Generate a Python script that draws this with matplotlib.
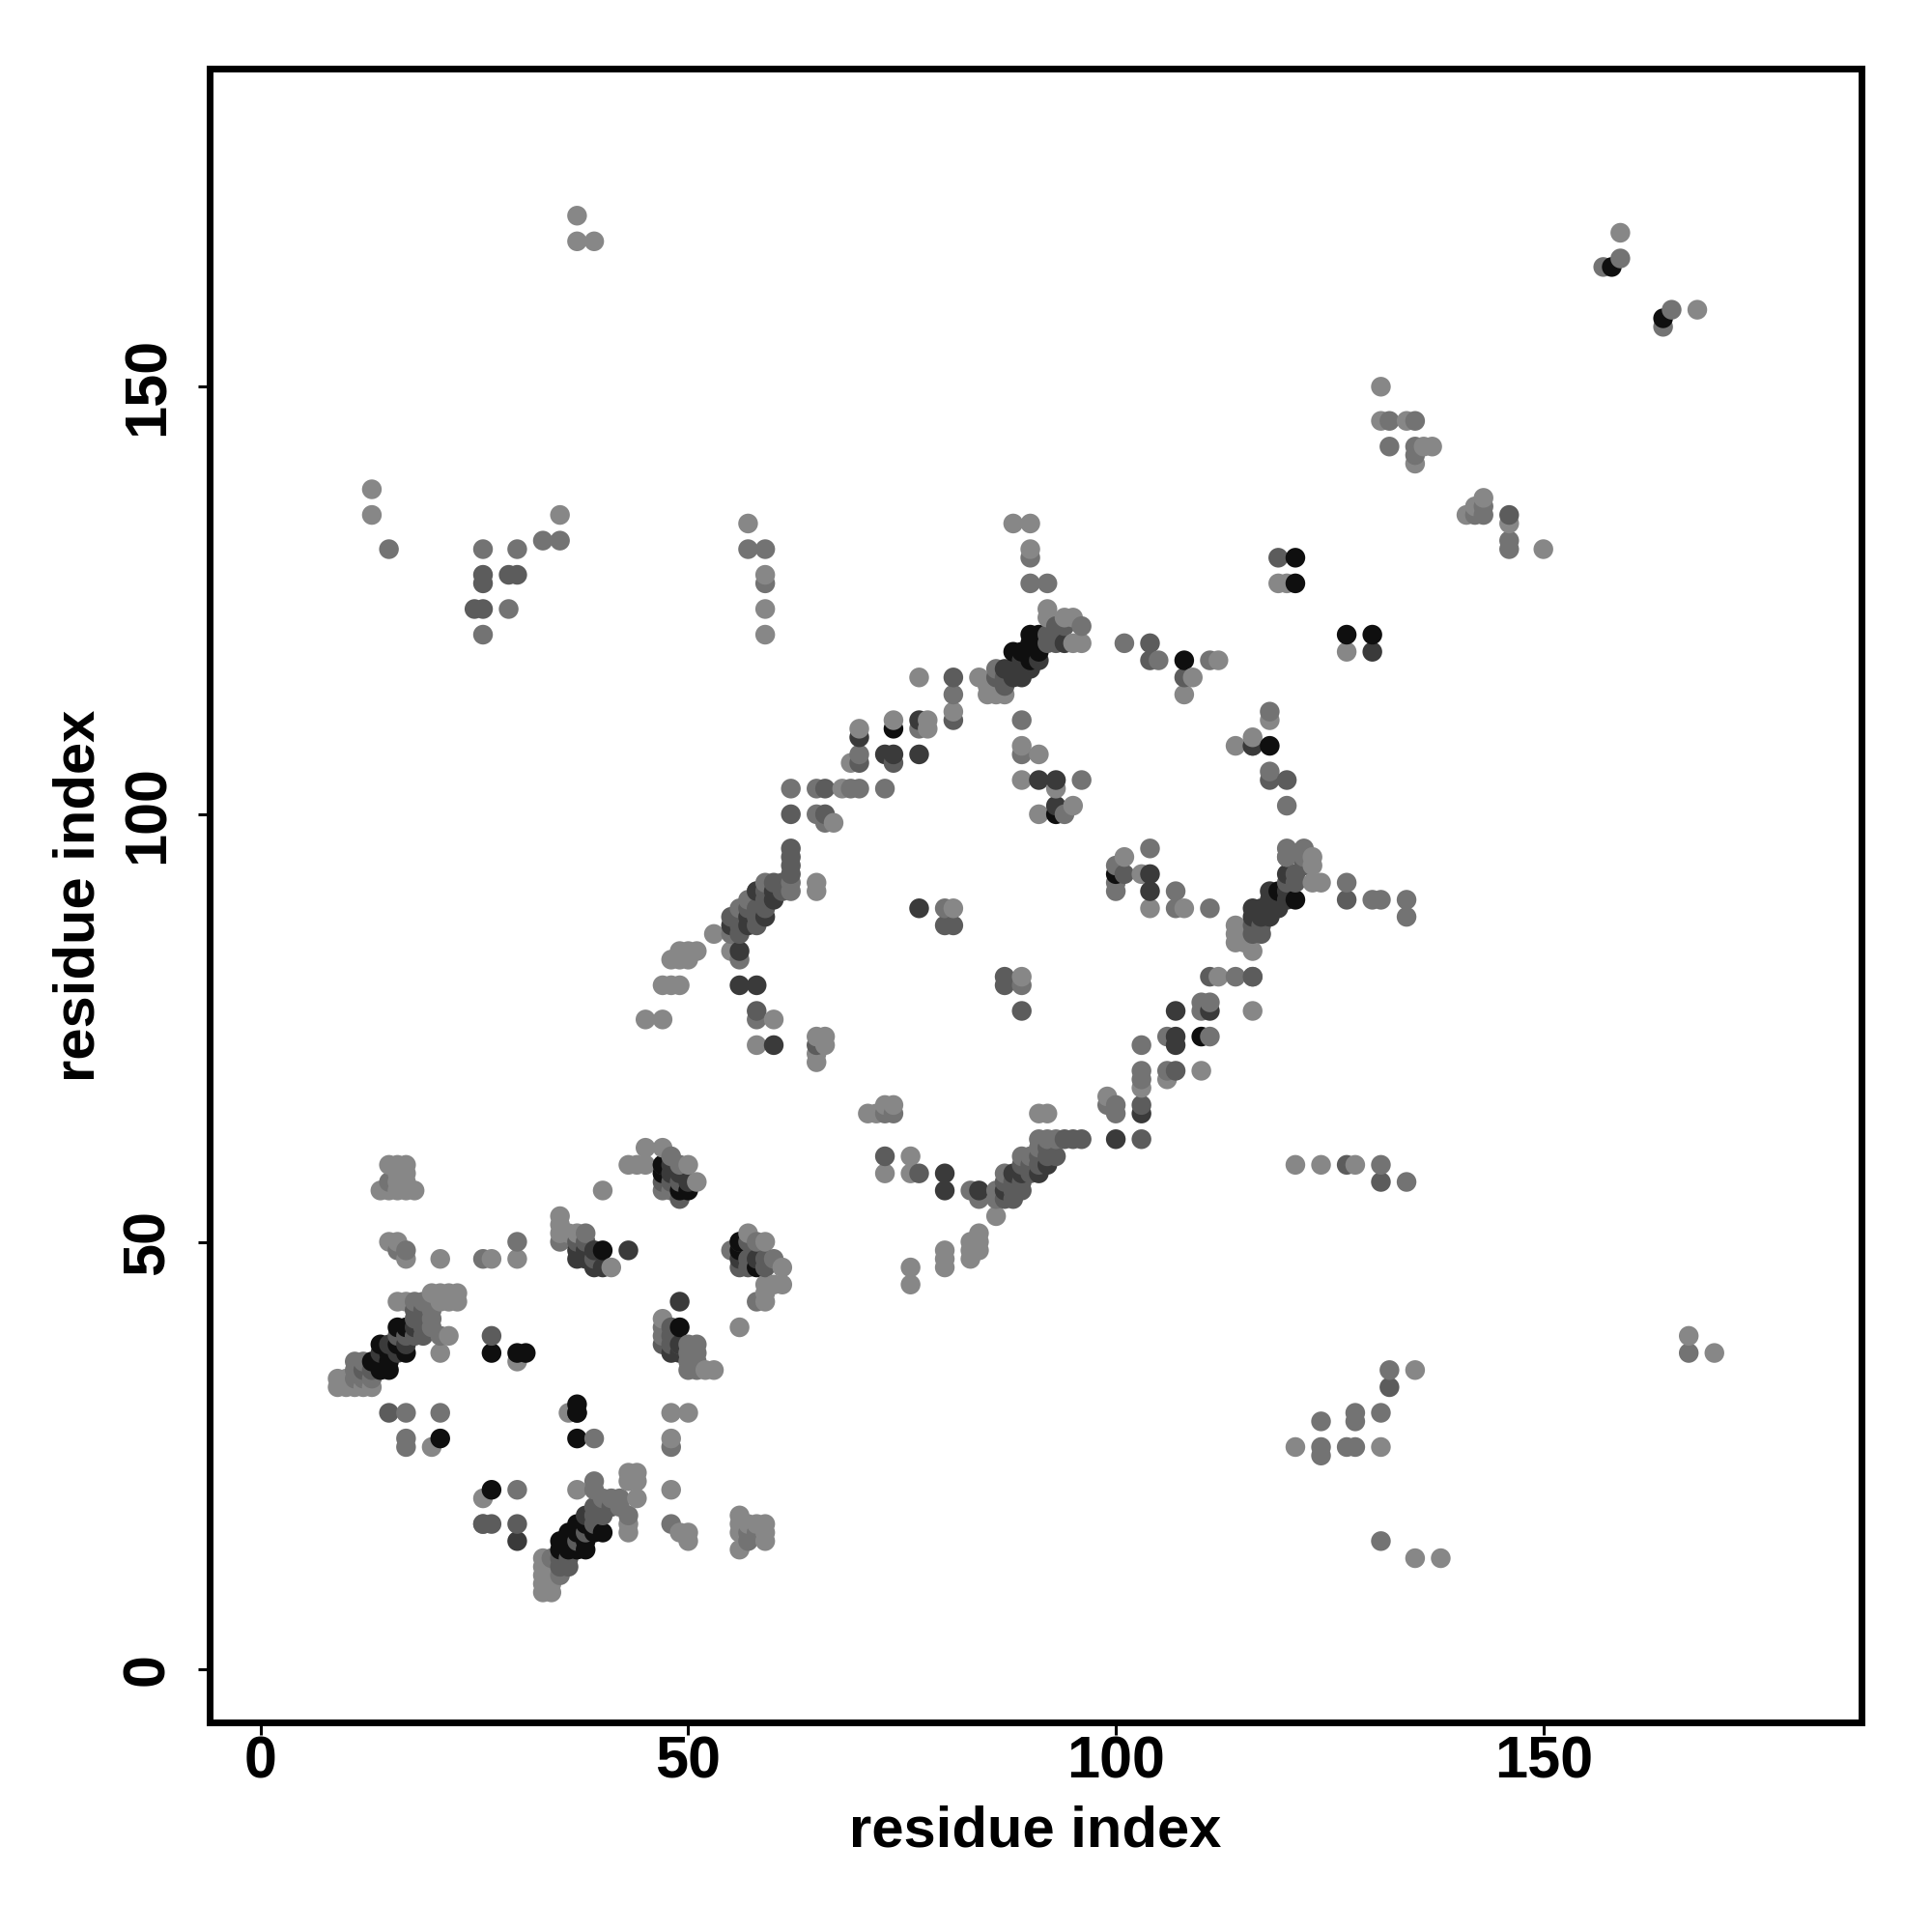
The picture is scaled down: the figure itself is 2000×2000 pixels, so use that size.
import matplotlib
matplotlib.use("Agg")
import matplotlib.pyplot as plt
import numpy as np

plt.rcParams['font.family'] = ['Liberation Sans', 'DejaVu Sans']

# contacts (residue i, residue j) grouped by how dark they are in the map
contacts_light = [
    (15,59),(16,59),(17,59),(16,58),(17,58),(16,57),(17,57),(14,56),(15,56),(16,56),(17,56),(18,56),
    (15,50),(16,50),(17,48),(21,48),(27,48),(30,48),(35,53),(35,52),(35,51),(36,51),(37,51),(41,47),
    (40,56),(45,61),(43,59),(44,59),(45,59),(47,61),(50,59),(51,57),(57,51),(59,50),(61,47),(61,45),
    (59,45),(59,44),(59,43),(60,45),(56,40),(16,43),(17,43),(20,44),(21,44),(22,44),(23,44),(22,43),(23,43),
    (21,43),(22,39),(21,37),(9,34),(10,34),(9,33),(10,33),(11,33),(12,33),(13,33),(30,36),(20,26),(36,30),
    (48,30),(50,30),(48,27),(26,20),(37,21),(43,23),(44,23),(43,22),(44,22),(44,20),(43,16),(43,17),
    (48,21),(49,16),(50,16),(50,15),(56,18),(56,17),(56,16),(56,14),(57,17),(58,17),(59,17),(59,16),(59,15),
    (33,13),(33,12),(34,12),(33,11),(34,11),(33,10),(34,10),(33,9),(34,9),(47,41),(53,35),(52,35),
    (65,92),(65,91),(81,89),(53,86),(51,84),(50,84),(49,84),(48,83),(49,83),(50,83),(55,84),(47,80),(48,80),(49,80),
    (45,76),(47,76),(60,76),(58,73),(65,74),(66,74),(66,73),(65,72),(65,71),(89,81),(71,65),(72,65),(73,66),(74,66),
    (91,65),(92,65),(76,60),(73,58),(76,58),(86,53),(84,51),(83,50),(84,50),(83,49),(84,49),(83,48),(80,49),(80,48),(80,47),
    (76,47),(76,45),(99,67),(103,68),(106,69),(110,70),(116,77),(112,81),(121,59),(124,59),(128,59),
    (90,131),(119,127),(120,127),(92,124),(92,123),(94,123),(95,123),(95,120),(96,120),(84,116),(85,115),(86,115),(85,114),(86,114),(87,114),
    (77,116),(81,112),(70,110),(74,111),(78,111),(78,110),(69,106),(68,103),(67,99),(89,108),(91,107),(89,104),(93,103),(95,101),(91,100),
    (101,95),(103,93),(104,89),(108,89),(109,116),(108,114),(112,118),(116,109),(114,108),(118,111),(120,95),(123,95),(123,94),(123,92),(124,92),
    (114,87),(114,86),(114,85),(115,85),(116,84),(37,170),(37,167),(39,167),(159,168),(168,159),(131,150),(131,146),(134,146),(136,143),(137,143),(135,141),
    (141,135),(143,137),(142,136),(146,134),(150,131),(13,138),(13,135),(35,135),(57,134),(59,128),(59,124),(59,121),(88,134),(90,134),(127,119),
    (170,37),(167,39),(135,35),(121,26),(138,13),(135,13),(131,26),
]
contacts_mid = [
    (15,57),(16,49),(17,49),(35,50),(38,51),(48,60),(49,59),(47,56),(48,56),(58,50),(60,48),(58,43),(18,43),(19,43),(20,42),
    (20,41),(20,40),(21,39),(11,36),(12,36),(11,35),(11,34),(12,34),(13,34),(17,30),(21,30),(17,27),(17,26),(39,27),(48,26),
    (39,22),(39,21),(30,21),(42,20),(40,20),(41,20),(42,19),(43,18),(48,17),(57,16),(57,15),(58,16),(26,17),(35,11),(34,13),
    (47,40),(47,39),(50,38),(51,38),(50,37),(51,37),(50,36),(51,36),(50,35),(51,35),(55,49),(26,48),(30,50),
    (62,92),(62,91),(59,92),(58,91),(57,90),(56,89),(55,86),(56,83),(58,76),(80,89),(73,65),(74,65),(89,80),(83,56),(84,55),(86,56),(86,55),(87,58),(91,62),
    (89,60),(90,60),(91,61),(92,62),(93,62),(99,66),(100,66),(100,65),(103,73),(106,74),(111,74),(106,70),(111,78),(110,77),(110,78),(131,59),(134,57),(103,70),(103,69),
    (90,130),(90,127),(92,127),(96,122),(86,117),(81,114),(70,107),(77,110),(73,103),(69,103),(70,103),(62,103),(65,103),(66,99),(65,100),(89,111),(89,107),(96,104),(94,100),
    (101,120),(105,118),(111,118),(120,101),(118,112),(118,105),(120,96),(122,96),(122,95),(120,95),(100,94),(100,92),(100,91),(104,96),(107,91),(107,89),(111,89),
    (157,164),(159,165),(164,157),(165,159),(132,146),(135,146),(132,143),(135,143),(135,142),(142,135),(143,135),(143,136),(146,132),(146,131),
    (15,131),(26,131),(26,121),(30,131),(33,132),(35,132),(29,124),(57,131),(59,131),(59,127),(127,92),(130,90),(131,90),(134,90),(134,88),
    (167,37),(132,35),(128,30),(128,29),(131,30),(124,29),(124,26),(124,25),(127,26),(128,26),(131,15),(114,81),(116,81),
]
contacts_gray = [
    (38,50),(37,50),(39,48),(47,58),(47,57),(48,57),(49,57),(49,55),(56,47),(57,50),(57,48),(57,47),(59,47),(59,48),(18,41),(18,39),(19,39),
    (18,42),(19,42),(19,41),(19,40),(13,35),(12,35),(17,39),(16,39),(27,39),(15,30),(26,17),(27,17),(30,17),(39,18),(40,18),(41,19),(40,19),(39,19),(39,17),(38,16),(37,15),
    (36,13),(35,13),(35,12),(36,12),(48,39),(47,38),(48,40),(49,38),(48,38),
    (62,96),(62,95),(62,94),(62,93),(60,92),(61,92),(61,91),(59,91),(57,89),(58,89),(59,90),(59,89),(58,88),(55,88),(56,88),(58,87),(56,86),(56,87),(80,87),(81,87),
    (58,77),(65,73),(87,81),(87,80),(89,77),(73,60),(77,58),(87,55),(88,55),(88,56),(89,56),(87,57),(88,57),(89,57),(90,58),(89,59),(90,59),(91,59),(92,60),(91,60),(92,61),
    (93,60),(94,62),(95,62),(96,62),(103,62),(103,66),(107,70),(116,81),(111,81),(127,59),(131,57),
    (81,116),(81,111),(119,130),(93,122),(94,122),(92,121),(93,121),(93,120),(92,120),(87,116),(86,116),(87,115),(74,106),(70,106),(66,103),(66,100),(62,100),
    (104,120),(104,118),(108,116),(118,104),(120,104),(116,108),(101,93),(121,93),(122,94),(120,92),(121,92),(116,87),(117,87),(116,86),(117,86),(127,90),(146,135),(30,128),(29,128),
    (26,128),(26,127),(25,124),(26,124),(132,33),
]
contacts_dark = [
    (43,49),(39,49),(38,49),(37,49),(38,48),(37,48),(39,47),(40,47),(49,43),(48,37),(49,38),(49,37),(47,59),(48,59),(50,57),(49,58),(48,58),
    (56,50),(56,48),(58,48),(15,38),(14,37),(16,37),(17,38),(18,40),(30,15),(37,30),(38,18),
    (58,91),(60,91),(60,90),(59,88),(57,88),(57,87),(55,87),(56,80),(58,80),(77,89),(60,73),(56,84),(100,62),(107,73),(107,74),(84,56),(80,58),(80,56),
    (88,58),(89,58),(87,56),(107,77),(111,77),(103,65),(92,59),(91,58),
    (70,109),(77,111),(74,107),(73,107),(77,107),(93,104),(91,104),(93,101),(89,116),(88,116),(91,118),(87,117),(88,117),(89,117),(90,117),(94,120),
    (104,93),(104,91),(116,108),(118,91),(118,90),(119,90),(116,89),(117,89),(118,89),(116,88),(117,88),(118,88),(119,89),(120,93),(120,90),(120,91),
    (89,118),(130,119),
]
contacts_black = [
    (21,27),(27,21),(37,31),(37,30),(37,27),(27,37),(30,37),(31,37),(14,38),(16,40),(17,40),(15,37),(16,38),(17,37),(13,36),(14,36),(15,36),(14,35),(15,35),
    (38,17),(37,17),(37,16),(36,16),(35,15),(36,15),(38,15),(38,14),(37,14),(36,14),(35,14),(40,16),(39,16),(49,40),(47,58),(49,56),(50,56),(47,59),(56,49),(56,50),(58,47),
    (40,49),(74,110),(118,108),(108,118),(100,93),(93,100),(121,127),(121,130),(127,121),(130,121),(90,121),(91,121),(90,120),(88,119),(89,119),(90,119),(91,119),(90,118),
    (121,90),(110,74),(158,164),(164,158),(119,91),
]
shades = [0.53, 0.45, 0.36, 0.23, 0.06]
groups = [contacts_light, contacts_mid, contacts_gray, contacts_dark, contacts_black]

x_ticks = [0, 50, 100, 150]

xs, ys, cs = [], [], []
for pts, shade in zip(groups, shades):
    for p in pts:
        xs.append(p[0])
        ys.append(p[1])
        cs.append(shade)
xs, ys, cs = np.array(xs), np.array(ys), np.array(cs)
# points were plotted by residue i then j, later ones sit on top
order = np.lexsort((ys, xs))

fig = plt.figure(figsize=(10, 10), dpi=200)
ax = fig.add_axes([217/2000, 1-1783/2000, (1927-217)/2000, (1783-71)/2000])
ax.scatter(xs[order], ys[order], c=cs[order], cmap='gray', vmin=0, vmax=1, s=54, linewidths=0)

ax.set_xlim(-5.97, 187.2)
ax.set_ylim(-6.2, 187.2)
ax.set_xticks(x_ticks)
ax.set_yticks(x_ticks)
ax.tick_params(length=4.5, width=1.1, labelsize=22)
ax.tick_params(axis='x', pad=0.3)
ax.tick_params(axis='y', pad=8)
for lab in ax.get_xticklabels():
    lab.set_fontweight('bold')
for lab in ax.get_yticklabels():
    lab.set_fontweight('bold')
    lab.set_rotation(90)
    lab.set_va('center')
for s in ax.spines.values():
    s.set_linewidth(2.5)

ax.set_xlabel('residue index', fontsize=21.5, fontweight='bold')
ax.set_ylabel('residue index', fontsize=21.5, fontweight='bold')
ax.xaxis.set_label_coords(0.5, -0.05)
ax.yaxis.set_label_coords(-0.063, 0.5)

fig.savefig('out.png', dpi=200)
